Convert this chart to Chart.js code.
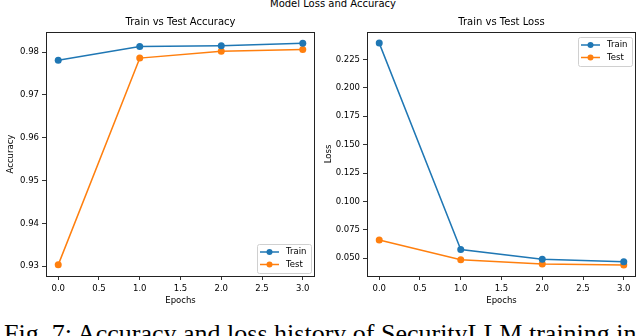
<!DOCTYPE html>
<html>
<head>
<meta charset="utf-8">
<script src="https://cdn.jsdelivr.net/npm/chart.js@4.4.1/dist/chart.umd.min.js"></script>
<style>
  html, body { margin: 0; padding: 0; background: #fff; }
  body { width: 640px; height: 336px; position: relative; overflow: hidden; }
  canvas { position: absolute; top: 0; }
  #sup { position: absolute; left: 0; width: 666px; top: -2px; text-align: center;
         font: 10px "DejaVu Sans"; color: #000; line-height: 12px; }
  #cap { position: absolute; left: 4px; top: 321px; white-space: nowrap;
         font: 26px "Liberation Serif"; line-height: 26px; color: #000; }
</style>
</head>
<body>
<div id="sup">Model Loss and Accuracy</div>
<canvas id="acc" width="320" height="310" style="left:0px"></canvas>
<canvas id="loss" width="320" height="310" style="left:320px"></canvas>
<div id="cap">Fig. 7: Accuracy and loss history of SecurityLLM training in</div>
<script>
// ---- data ----
const epochs = [0, 1, 2, 3];
const trainAcc = [0.9781, 0.9813, 0.9815, 0.9821];
const testAcc = [0.9303, 0.9786, 0.9802, 0.9806];
const trainLoss = [0.2395, 0.0575, 0.0490, 0.0467];
const testLoss = [0.0660, 0.0485, 0.0447, 0.0438];
const xTicks = [0, 0.5, 1, 1.5, 2, 2.5, 3];
const accTicks = [0.93, 0.94, 0.95, 0.96, 0.97, 0.98];
const lossTicks = [0.05, 0.075, 0.1, 0.125, 0.15, 0.175, 0.2, 0.225];
const seriesNames = ['Train', 'Test'];

const C0 = '#1f77b4', C1 = '#ff7f0e';
const FONT = 'DejaVu Sans';

function pts(ys) { return epochs.map((e, i) => ({ x: e, y: ys[i] })); }

const framePlugin = {
  id: 'frame',
  afterDraw(chart, args, opts) {
    const { ctx, chartArea: a } = chart;
    ctx.save();
    // box
    ctx.lineWidth = 1;
    ctx.strokeStyle = '#222';
    ctx.strokeRect(Math.round(a.left) + 0.5, Math.round(a.top) + 0.5,
                   Math.round(a.right - a.left) - 1, Math.round(a.bottom - a.top));
    // subplot title
    ctx.fillStyle = '#000';
    ctx.font = '10px "' + FONT + '"';
    ctx.textAlign = 'center';
    ctx.textBaseline = 'middle';
    ctx.fillText(opts.title, (a.left + a.right) / 2, 22);
    // legend
    const w = 54, h = 29;
    const bx = a.right - 4 - w;
    const by = opts.legendPos === 'lower right' ? a.bottom - 3 - h : a.top + 5;
    ctx.fillStyle = 'rgba(255,255,255,0.8)';
    ctx.strokeStyle = '#d0d0d0';
    ctx.lineWidth = 1;
    ctx.beginPath();
    if (ctx.roundRect) ctx.roundRect(bx + 0.5, by + 0.5, w, h, 2); else ctx.rect(bx + 0.5, by + 0.5, w, h);
    ctx.fill(); ctx.stroke();
    chart.data.datasets.forEach((ds, i) => {
      const y = by + 8 + i * 12.5;
      ctx.strokeStyle = ds.borderColor;
      ctx.lineWidth = 1.5;
      ctx.beginPath(); ctx.moveTo(bx + 3, y); ctx.lineTo(bx + 22, y); ctx.stroke();
      ctx.fillStyle = ds.borderColor;
      ctx.beginPath(); ctx.arc(bx + 12.5, y, 3, 0, Math.PI * 2); ctx.fill();
      ctx.fillStyle = '#000';
      ctx.font = '8.5px "' + FONT + '"';
      ctx.textAlign = 'left';
      ctx.textBaseline = 'middle';
      ctx.fillText(ds.label, bx + 29, y);
    });
    ctx.restore();
  }
};

function makeChart(id, trainY, testY, yTicks, yMin, yMax, yTitle, yWidth, yTitlePad, rightPad, decimals, title, legendPos) {
  const axisCommon = {
    grid: { display: true, drawOnChartArea: false, drawTicks: true, tickLength: 4, color: '#333' },
    border: { display: false },
    ticks: { color: '#000', font: { family: FONT, size: 8.5 }, padding: 3 }
  };
  return new Chart(document.getElementById(id), {
    type: 'line',
    data: {
      datasets: [
        { label: seriesNames[0], data: pts(trainY), borderColor: C0, backgroundColor: C0,
          borderWidth: 1.5, pointRadius: 3.5, pointBorderWidth: 0, pointBackgroundColor: C0, tension: 0 },
        { label: seriesNames[1], data: pts(testY), borderColor: C1, backgroundColor: C1,
          borderWidth: 1.5, pointRadius: 3.5, pointBorderWidth: 0, pointBackgroundColor: C1, tension: 0 }
      ]
    },
    options: {
      responsive: false, animation: false, devicePixelRatio: 1,
      layout: { padding: { top: 32, right: rightPad, left: 0, bottom: 0 } },
      plugins: { legend: { display: false }, tooltip: { enabled: false }, frame: { title, legendPos } },
      scales: {
        x: {
          type: 'linear', min: -0.15, max: 3.15,
          grid: axisCommon.grid, border: axisCommon.border,
          ticks: Object.assign({}, axisCommon.ticks, { padding: 4, maxRotation: 0, callback: v => Number(v).toFixed(1) }),
          afterBuildTicks: s => { s.ticks = xTicks.map(v => ({ value: v })); },
          afterFit: s => { s.height = 34; },
          title: { display: true, text: 'Epochs', color: '#000', font: { family: FONT, size: 8.5 }, padding: { top: 2, bottom: 4 } }
        },
        y: {
          type: 'linear', min: yMin, max: yMax,
          grid: axisCommon.grid, border: axisCommon.border,
          ticks: Object.assign({}, axisCommon.ticks, { callback: v => Number(v).toFixed(decimals) }),
          afterBuildTicks: s => { s.ticks = yTicks.map(v => ({ value: v })); },
          afterFit: s => { s.width = yWidth; },
          title: { display: true, text: yTitle, color: '#000', font: { family: FONT, size: 8.5 }, padding: { top: yTitlePad, bottom: 2 } }
        }
      }
    },
    plugins: [framePlugin]
  });
}

makeChart('acc', trainAcc, testAcc, accTicks, 0.9277, 0.9847, 'Accuracy', 46, 6, 5, 2, 'Train vs Test Accuracy', 'lower right');
makeChart('loss', trainLoss, testLoss, lossTicks, 0.0342, 0.2493, 'Loss', 47, 4, 1, 3, 'Train vs Test Loss', 'upper right');
</script>
</body>
</html>
